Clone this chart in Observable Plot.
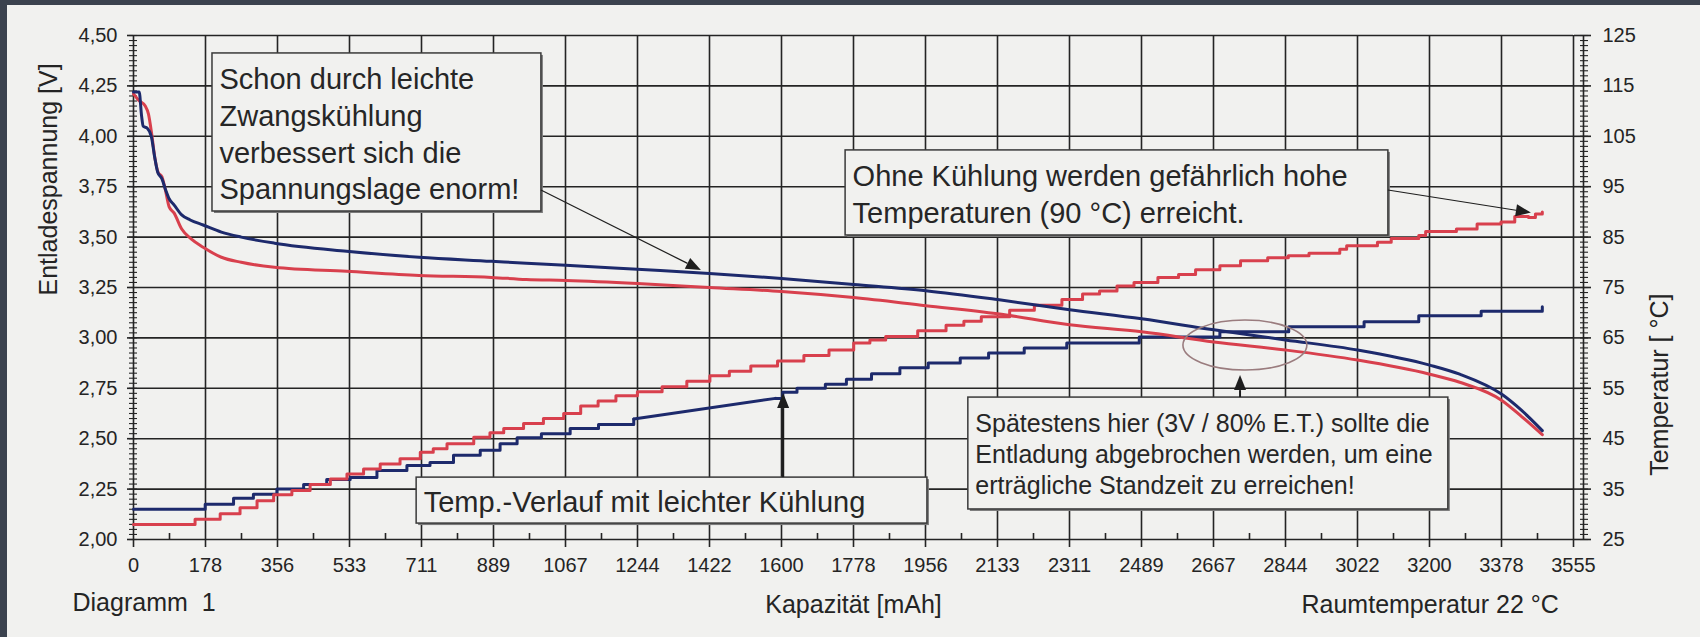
<!DOCTYPE html>
<html>
<head>
<meta charset="utf-8">
<script src="https://cdn.jsdelivr.net/npm/d3@7"></script>
<script src="https://cdn.jsdelivr.net/npm/@observablehq/plot@0.6"></script>
<style>
html, body { margin: 0; padding: 0; background: #f1f1ef; }
body { width: 1700px; height: 637px; position: relative; overflow: hidden; font-family: "Liberation Sans", Arial, sans-serif; }
#chart { position: absolute; left: 0; top: 0; }
#frameTop { position: absolute; left: 0; top: 0; width: 1700px; height: 5px; background: #3b424e; }
#frameLeft { position: absolute; left: 0; top: 0; width: 7px; height: 637px; background: #3b424e; }
</style>
</head>
<body>
<div id="chart"></div>
<div id="frameTop"></div>
<div id="frameLeft"></div>
<script>
// ---------- axes / tick labels ----------
const xMax = 3555;
const xTickLabels = ["0","178","356","533","711","889","1067","1244","1422","1600","1778","1956","2133","2311","2489","2667","2844","3022","3200","3378","3555"];
const voltTicks = [2.00, 2.25, 2.50, 2.75, 3.00, 3.25, 3.50, 3.75, 4.00, 4.25, 4.50];
const tempTicks = [25, 35, 45, 55, 65, 75, 85, 95, 105, 115, 125];

// ---------- discharge voltage [V] ----------
// with light forced cooling (blue)
const voltCooledX = [0, 14, 20, 24, 34, 44, 52, 60, 70, 80, 88, 100, 119, 140, 172, 217, 266, 348, 526, 705, 884, 970, 1067, 1244, 1422, 1600, 1778, 1956, 2133, 2311, 2489, 2667, 2844, 3022, 3200, 3274, 3378, 3427, 3478];
const voltCooledV = [4.22, 4.22, 4.10, 4.05, 4.04, 4.00, 3.90, 3.82, 3.79, 3.73, 3.69, 3.66, 3.61, 3.585, 3.56, 3.525, 3.50, 3.47, 3.43, 3.40, 3.38, 3.37, 3.36, 3.34, 3.32, 3.295, 3.265, 3.234, 3.19, 3.14, 3.095, 3.04, 2.99, 2.94, 2.865, 2.82, 2.72, 2.64, 2.54];
// without cooling (red)
const voltUncooledX = [0, 12, 29, 37, 45, 53, 61, 70, 78, 88, 100, 119, 143, 172, 217, 266, 348, 526, 705, 884, 970, 1067, 1244, 1422, 1600, 1778, 1956, 2133, 2311, 2489, 2667, 2844, 3022, 3200, 3274, 3378, 3427, 3478];
const voltUncooledV = [4.21, 4.18, 4.15, 4.11, 4.01, 3.89, 3.82, 3.80, 3.74, 3.65, 3.62, 3.54, 3.49, 3.45, 3.40, 3.375, 3.35, 3.33, 3.31, 3.30, 3.29, 3.285, 3.27, 3.25, 3.23, 3.20, 3.16, 3.12, 3.065, 3.03, 2.98, 2.94, 2.89, 2.82, 2.78, 2.69, 2.61, 2.52];

// ---------- temperature [°C] ----------
// without cooling (red), stepwise
const tempUncooledX = [0,152,214,263,305,346,391,436,486,527,568,609,658,708,740,774,840,880,914,963,1012,1062,1104,1147,1191,1244,1305,1366,1423,1471,1524,1590,1655,1717,1778,1818,1857,1936,2006,2050,2093,2163,2224,2292,2343,2385,2428,2470,2529,2580,2622,2682,2733,2800,2851,2902,2978,2995,3071,3105,3173,3190,3266,3317,3376,3410,3444,3461,3478];
const tempUncooledT = [28.0,29.0,30.1,31.3,32.7,33.9,34.7,35.9,37.0,38.0,39.0,40.0,41.0,42.3,43.0,44.0,45.3,46.2,47.0,48.0,49.0,50.0,51.5,52.5,53.5,54.3,55.3,56.4,57.5,58.4,59.4,60.4,61.5,62.6,64.0,64.6,65.3,66.4,67.5,68.3,69.2,70.5,71.5,72.6,73.7,74.3,75.3,76.0,77.0,77.6,78.5,79.3,80.3,80.9,81.3,81.8,82.6,83.3,84.0,84.7,85.3,86.1,86.6,87.6,88.0,89.1,88.9,89.6,90.0];
// with light cooling (blue): steps, a straight ramp, steps again
const tempCooledStepsAX = [0,177,247,296,354,420,477,535,601,675,732,790,856,905,947,1007,1078,1148,1235];
const tempCooledStepsAT = [31.0,32.0,33.2,34.0,35.0,35.9,36.9,37.3,38.7,39.7,40.3,41.7,42.7,44.0,45.2,46.0,47.0,47.8,48.9];
const tempCooledRampX = [1235, 1585];
const tempCooledRampT = [48.9, 53.0];
const tempCooledStepsBX = [1585,1603,1638,1708,1760,1822,1892,1962,2041,2111,2199,2304,2483,2682,2852,3038,3173,3327,3465,3478];
const tempCooledStepsBT = [53.0,54.2,55.0,55.8,56.8,57.9,59.1,60.0,61.0,62.0,63.0,64.0,65.2,66.2,67.2,68.2,69.4,70.3,70.3,71.2];

// ---------- annotations (data units: mAh, V) ----------
const boxText = [
  "Schon durch leichte\nZwangskühlung\nverbessert sich die\nSpannungslage enorm!",
  "Ohne Kühlung werden gefährlich hohe\nTemperaturen (90 °C) erreicht.",
  "Temp.-Verlauf mit leichter Kühlung",
  "Spätestens hier (3V / 80% E.T.) sollte die\nEntladung abgebrochen werden, um eine\nerträgliche Standzeit zu erreichen!"
];
const boxX1 = [195, 1758, 699, 2061];
const boxX2 = [1007, 3098, 1960, 3246];
const boxVTop = [4.411, 3.930, 2.307, 2.704];
const boxVBottom = [3.627, 3.508, 2.079, 2.149];
const arrowX1 = [1007, 3098, 1605, 2733];
const arrowV1 = [3.731, 3.731, 2.307, 2.704];
const arrowX2 = [1402, 3451, 1605, 2733];
const arrowV2 = [3.334, 3.619, 2.724, 2.813];
const ellipseCenter = [2745, 2.962];
const ellipseRadius = [153, 0.124];

// ---------- derived helpers ----------
const xStep = xMax / 20;
const xTickValues = xTickLabels.map((_, i) => i * xStep);
const xMinorValues = xTickLabels.slice(1).map((_, i) => (i + 0.5) * xStep);
const minorV = d3.range(0, 101).map(i => 2 + i * 0.025);
const tempToV = t => 2 + (t - 25) / 40;
const rows = (X, Y, f = v => v) => X.map((x, i) => ({x, y: f(Y[i])}));

const ink = "#242424";
const blue = "#1d2a6c";
const red = "#d8404d";
const paper = "#f1f1ef";
const font = "Liberation Sans, Arial, sans-serif";
const tickFont = 20;

const boxIdx29 = [0, 1, 2];
const boxIdx25 = [3];

function annotationLayer(index, scales) {
  const {x, y} = scales;
  const g = d3.create("svg:g");
  g.append("ellipse")
    .attr("cx", x(ellipseCenter[0])).attr("cy", y(ellipseCenter[1]))
    .attr("rx", x(ellipseCenter[0] + ellipseRadius[0]) - x(ellipseCenter[0]))
    .attr("ry", y(ellipseCenter[1] - ellipseRadius[1]) - y(ellipseCenter[1]))
    .attr("fill", "none").attr("stroke", "#9a7c7e").attr("stroke-width", 1.6);
  const widths = [1.2, 1.2, 2.2, 2];
  arrowX1.forEach((_, i) => {
    const x1 = x(arrowX1[i]), y1 = y(arrowV1[i]), x2 = x(arrowX2[i]), y2 = y(arrowV2[i]);
    const a = Math.atan2(y2 - y1, x2 - x1);
    const L = 15, W = 6;
    const bx = x2 - L * Math.cos(a), by = y2 - L * Math.sin(a);
    g.append("line").attr("x1", x1).attr("y1", y1).attr("x2", bx).attr("y2", by)
      .attr("stroke", "#1e1e1e").attr("stroke-width", widths[i]);
    g.append("path")
      .attr("d", `M${x2},${y2}L${bx - W * Math.sin(a)},${by + W * Math.cos(a)}L${bx + W * Math.sin(a)},${by - W * Math.cos(a)}Z`)
      .attr("fill", "#1e1e1e");
  });
  return g.node();
}

const chart = Plot.plot({
  width: 1700,
  height: 637,
  marginLeft: 133,
  marginRight: 127,
  marginTop: 35,
  marginBottom: 98,
  x: {domain: [0, xMax]},
  y: {domain: [2, 4.5]},
  style: {background: "transparent", fontFamily: font, color: ink},
  marks: [
    Plot.gridX(xTickValues, {stroke: ink, strokeOpacity: 1, strokeWidth: 1.6}),
    Plot.gridY(voltTicks, {stroke: ink, strokeOpacity: 1, strokeWidth: 1.6}),
    // bottom axis
    Plot.axisX(xTickValues, {anchor: "bottom", tickSize: 8, tickPadding: 10, tickFormat: v => xTickLabels[Math.round(v / xStep)], fontSize: tickFont, color: ink, strokeWidth: 1.6, label: null}),
    Plot.axisX(xMinorValues, {anchor: "bottom", tickSize: 6, dy: -6, fill: "none", color: ink, strokeWidth: 1.6, label: null}),
    // left axis
    Plot.axisY(voltTicks, {anchor: "left", tickSize: 6, tickPadding: 10, tickFormat: v => v.toFixed(2).replace(".", ","), fontSize: tickFont, color: ink, strokeWidth: 1.6, label: null}),
    Plot.axisY(minorV, {anchor: "left", tickSize: 8, dx: 4, fill: "none", color: ink, strokeWidth: 1.1, label: null}),
    // right axis
    Plot.ruleX([xMax], {dx: 10, stroke: ink, strokeWidth: 1.6}),
    Plot.axisY(voltTicks, {anchor: "right", tickSize: 17, fill: "none", color: ink, strokeWidth: 1.6, label: null}),
    Plot.axisY(minorV, {anchor: "right", tickSize: 8, dx: 6, fill: "none", color: ink, strokeWidth: 1.1, label: null}),
    Plot.axisY(tempTicks.map(tempToV), {anchor: "right", tickSize: 0, tickPadding: 29, tickFormat: v => String(Math.round(25 + (v - 2) * 40)), fontSize: tickFont, color: ink, label: null}),
    // axis titles and captions
    Plot.text(["Entladespannung [V]"], {frameAnchor: "left", dx: -85, dy: 8, rotate: -90, fontSize: 25, fill: ink}),
    Plot.text(["Temperatur [ °C]"], {frameAnchor: "right", dx: 86, dy: 6, rotate: -90, fontSize: 25, fill: ink}),
    Plot.text(["Kapazität [mAh]"], {frameAnchor: "bottom", dy: 73, fontSize: 25, fill: ink}),
    Plot.text(["Diagramm\u00a0 1"], {frameAnchor: "bottom-left", textAnchor: "start", dx: -61, dy: 71, fontSize: 25, fill: ink}),
    Plot.text(["Raumtemperatur 22 °C"], {frameAnchor: "bottom-right", textAnchor: "start", dx: -272, dy: 73, fontSize: 25, fill: ink}),
    // annotation boxes
    Plot.rect(boxText.map((_, i) => i), {x1: i => boxX1[i], x2: i => boxX2[i], y1: i => boxVBottom[i], y2: i => boxVTop[i], dx: 2, dy: 2, fill: "#7a7a7a"}),
    Plot.rect(boxText.map((_, i) => i), {x1: i => boxX1[i], x2: i => boxX2[i], y1: i => boxVBottom[i], y2: i => boxVTop[i], fill: paper, stroke: "#3a3a3a", strokeWidth: 1.5}),
    Plot.text(boxIdx29, {x: i => boxX1[i], y: i => (boxVTop[i] + boxVBottom[i]) / 2, text: i => boxText[i], textAnchor: "start", lineAnchor: "middle", lineHeight: 1.265, dx: 7, fontSize: 29, fill: "#262626"}),
    Plot.text(boxIdx25, {x: i => boxX1[i], y: i => (boxVTop[i] + boxVBottom[i]) / 2, text: i => boxText[i], textAnchor: "start", lineAnchor: "middle", lineHeight: 1.24, dx: 7, fontSize: 25, fill: "#262626"}),
    // data
    Plot.line(rows(tempCooledStepsAX, tempCooledStepsAT, tempToV), {x: "x", y: "y", stroke: blue, strokeWidth: 3, curve: "step-after"}),
    Plot.line(rows(tempCooledRampX, tempCooledRampT, tempToV), {x: "x", y: "y", stroke: blue, strokeWidth: 3}),
    Plot.line(rows(tempCooledStepsBX, tempCooledStepsBT, tempToV), {x: "x", y: "y", stroke: blue, strokeWidth: 3, curve: "step-after"}),
    Plot.line(rows(tempUncooledX, tempUncooledT, tempToV), {x: "x", y: "y", stroke: red, strokeWidth: 3, curve: "step-after"}),
    Plot.line(rows(voltUncooledX, voltUncooledV), {x: "x", y: "y", stroke: red, strokeWidth: 3, curve: "monotone-x"}),
    Plot.line(rows(voltCooledX, voltCooledV), {x: "x", y: "y", stroke: blue, strokeWidth: 3, curve: "monotone-x"}),
    annotationLayer
  ]
});
document.getElementById("chart").append(chart);
</script>
</body>
</html>
